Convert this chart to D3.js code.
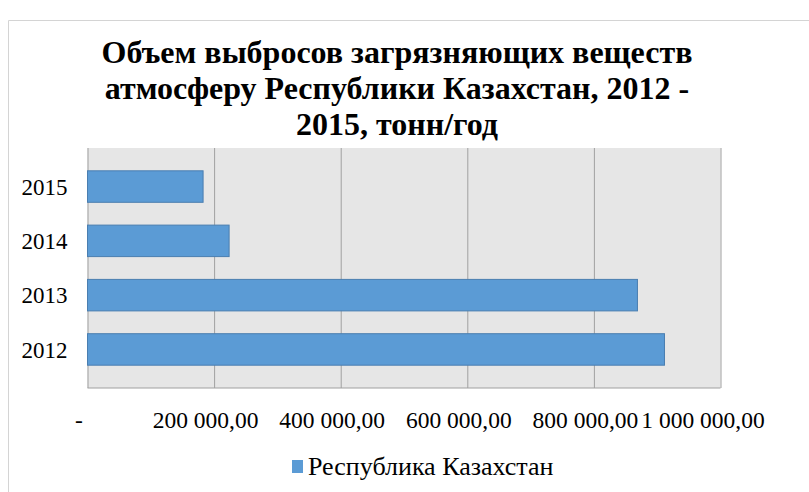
<!DOCTYPE html>
<html>
<head>
<meta charset="utf-8">
<script src="https://cdn.jsdelivr.net/npm/d3@7"></script>
<style>
  body { margin: 0; background: #fff; }
  svg { display: block; }
  svg text { font-family: "Liberation Serif", serif; }
</style>
</head>
<body>
<svg width="809" height="492"></svg>
<script>
const years = ['2015', '2014', '2013', '2012']
const values = [182600, 223700, 868800, 911500]
const ticks = [0, 200000, 400000, 600000, 800000, 1000000]
const tickLabels = ['-', '200 000,00', '400 000,00', '600 000,00', '800 000,00', '1 000 000,00']
const seriesName = 'Республика Казахстан'
const titleLines = ['Объем выбросов загрязняющих веществ', 'атмосферу Республики Казахстан, 2012 -', '2015, тонн/год']

const svg = d3.select('svg')
const width = +svg.attr('width')
const height = +svg.attr('height')
const margin = { top: 148, right: 88.5, bottom: 104, left: 87.5 }
const innerWidth = width - margin.left - margin.right
const innerHeight = height - margin.top - margin.bottom

// outer chart border (runs off the picture on right/bottom)
svg.append('line')
  .attr('x1', 8.5).attr('y1', 20.5).attr('x2', width).attr('y2', 20.5)
  .attr('stroke', '#d4d4d4')
svg.append('line')
  .attr('x1', 8.5).attr('y1', 20.5).attr('x2', 8.5).attr('y2', height)
  .attr('stroke', '#d4d4d4')

// title
svg.append('g').selectAll('text').data(titleLines)
  .enter().append('text')
  .attr('x', 397)
  .attr('y', (d, i) => 63 + i * 36)
  .attr('text-anchor', 'middle')
  .attr('font-size', 32)
  .attr('font-weight', 'bold')
  .text(d => d)

const xScale = d3.scaleLinear()
  .domain([0, 1000000])
  .range([0, innerWidth])

const yScale = d3.scaleBand()
  .domain(years)
  .range([0, innerHeight])
  .padding(0.42)

const g = svg.append('g')
  .attr('transform', `translate(${margin.left}, ${margin.top})`)

g.append('rect')
  .attr('width', innerWidth)
  .attr('height', innerHeight)
  .attr('fill', '#e6e6e6')

// gridlines + tick labels
const xAxis = d3.axisBottom(xScale)
  .tickValues(ticks)
  .tickSize(-innerHeight)
  .tickFormat((d, i) => tickLabels[i])

const xAxisGroup = g.append('g').call(xAxis)
  .attr('transform', `translate(0, ${innerHeight})`)
  .attr('font-size', 23.5)

xAxisGroup.select('.domain')
  .attr('stroke', '#a0a0a0')
  .attr('d', `M0,0H${innerWidth}`)
xAxisGroup.selectAll('.tick line').attr('stroke', '#a0a0a0')
xAxisGroup.selectAll('.tick text')
  .attr('y', 40)
  .attr('dy', 0)
  .attr('x', (d, i) => i === ticks.length - 1 ? -18 : -9)

const yAxisGroup = g.append('g').call(d3.axisLeft(yScale).tickSize(0).tickPadding(20))
  .attr('font-size', 23)
yAxisGroup.select('.domain').remove()
yAxisGroup.selectAll('.tick text')
  .attr('dy', '0.36em')

g.selectAll('rect.bar').data(values)
  .enter().append('rect')
  .attr('class', 'bar')
  .attr('x', 0)
  .attr('y', (d, i) => yScale(years[i]))
  .attr('width', d => xScale(d))
  .attr('height', yScale.bandwidth())
  .attr('fill', '#5b9bd5')
  .attr('stroke', '#4a7eb0')
  .attr('stroke-width', 1)

// legend
const legend = svg.append('g')
  .attr('transform', 'translate(292, 475)')
legend.append('rect')
  .attr('x', 0).attr('y', -15)
  .attr('width', 11).attr('height', 13)
  .attr('fill', '#5b9bd5')
legend.append('text')
  .attr('x', 16)
  .attr('font-size', 26)
  .text(seriesName)
</script>
</body>
</html>
